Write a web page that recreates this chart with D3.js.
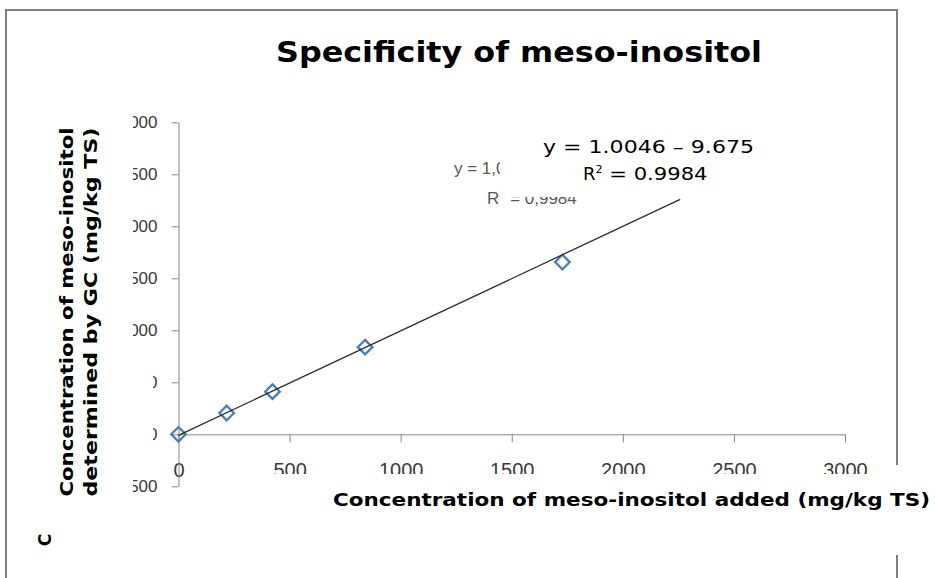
<!DOCTYPE html>
<html>
<head>
<meta charset="utf-8">
<script src="https://cdn.jsdelivr.net/npm/d3@7"></script>
<style>
  html, body { margin: 0; padding: 0; background: #fff; }
  svg { display: block; }
</style>
</head>
<body>
<svg id="chart" width="935" height="578"></svg>
<script>
// ---- data ----
const addedX     = [0, 217, 423, 840, 1728];      // mg/kg TS added
const measuredY  = [0, 205, 410, 838, 1656];      // mg/kg TS determined by GC
const xTickVals  = [0, 500, 1000, 1500, 2000, 2500, 3000];
const yTickVals  = [-500, 0, 500, 1000, 1500, 2000, 2500, 3000];
const trendX     = [0, 2258];
const trendY     = [-9.7, 2258.7];
const titleText  = "Specificity of meso-inositol";
const xTitle     = "Concentration of meso-inositol added (mg/kg TS)";
const yTitle1    = "Concentration of meso-inositol";
const yTitle2    = "determined by GC (mg/kg TS)";
const eqNew1     = "y = 1.0046 \u2013 9.675";
const eqNewR     = " = 0.9984";
const eqOld1     = "y = 1,0046x - 9,675";
const eqOldR     = " = 0,9984";

const svg = d3.select("#chart");
const x = d3.scaleLinear().domain([0, 3000]).range([178.5, 845]);
const y = d3.scaleLinear().domain([-500, 3000]).range([486.3, 122.3]);

const axisColor = "#868686";
const tickFont = "'Liberation Sans Narrow', 'Arial Narrow', 'Liberation Sans', sans-serif";

// x axis
const gx = svg.append("g")
  .attr("transform", `translate(0,${y(0)})`)
  .call(d3.axisBottom(x).tickValues(xTickVals).tickSize(8).tickSizeOuter(0).tickPadding(21).tickFormat(d3.format("d")));
gx.attr("font-family", tickFont).attr("font-size", 20);
gx.selectAll("path, line").attr("stroke", axisColor);
gx.selectAll("text").attr("fill", "#3a3a3a");

// y axis
const gy = svg.append("g")
  .attr("transform", `translate(${x(0)},0)`)
  .call(d3.axisLeft(y).tickValues(yTickVals).tickSize(7).tickSizeOuter(0).tickPadding(14).tickFormat(d3.format("d")));
gy.attr("font-family", tickFont).attr("font-size", 17);
gy.selectAll("path, line").attr("stroke", axisColor);
gy.selectAll("text").attr("fill", "#3a3a3a");

// data points (diamonds)
const pts = addedX.map((v, i) => ({ x: v, y: measuredY[i] }));
svg.append("g").selectAll("path")
  .data(pts).enter().append("path")
  .attr("d", d3.symbol().type(d3.symbolDiamond2).size(135))
  .attr("transform", d => `translate(${x(d.x)},${y(d.y)})`)
  .attr("fill", "none")
  .attr("stroke", "#4a7ebb")
  .attr("stroke-width", 2.3);

// trendline
const trend = trendX.map((v, i) => ({ x: v, y: trendY[i] }));
svg.append("path")
  .datum(trend)
  .attr("d", d3.line().x(d => x(d.x)).y(d => y(d.y)))
  .attr("stroke", "#2b2b2b")
  .attr("stroke-width", 1.3)
  .attr("fill", "none");

// original (Excel) equation label
const old = svg.append("g").attr("font-family", "'Liberation Sans', Arial, sans-serif")
  .attr("font-size", 17).attr("fill", "#595959");
old.append("text").attr("x", 454).attr("y", 174).text(eqOld1);
const oldR = old.append("text").attr("x", 487).attr("y", 204);
oldR.append("tspan").text("R");
oldR.append("tspan").attr("font-size", 11).attr("dy", -7).text("2");
oldR.append("tspan").attr("dy", 7).text(eqOldR);

// original rotated y-title remnant
svg.append("text")
  .attr("transform", "translate(51,540) rotate(-90)")
  .attr("text-anchor", "middle")
  .attr("font-family", "'DejaVu Sans', Verdana, sans-serif")
  .attr("font-weight", "bold")
  .attr("font-size", 17)
  .text("C");

// ---- white overlay boxes ----
const white = svg.append("g").attr("fill", "#fff");
white.append("rect").attr("x", 7).attr("y", 95).attr("width", 126).attr("height", 430);
white.append("rect").attr("x", 7).attr("y", 365).attr("width", 146).attr("height", 85);
white.append("rect").attr("x", 190).attr("y", 474).attr("width", 745).attr("height", 56);
white.append("rect").attr("x", 500).attr("y", 122).attr("width", 362).attr("height", 75);

// ---- overlaid texts ----
const verdana = "'DejaVu Sans', Verdana, sans-serif";
svg.append("text")
  .attr("x", 276).attr("y", 62)
  .attr("font-family", verdana).attr("font-weight", "bold").attr("font-size", 29)
  .attr("textLength", 486).attr("lengthAdjust", "spacingAndGlyphs")
  .text(titleText);

svg.append("text")
  .attr("x", 333).attr("y", 506)
  .attr("font-family", verdana).attr("font-weight", "bold").attr("font-size", 18)
  .attr("textLength", 597).attr("lengthAdjust", "spacingAndGlyphs")
  .text(xTitle);

[[yTitle1, 73], [yTitle2, 97]].forEach(([t, bx]) => {
  svg.append("text")
    .attr("transform", `translate(${bx},312) rotate(-90)`)
    .attr("text-anchor", "middle")
    .attr("font-family", verdana).attr("font-weight", "bold").attr("font-size", 18)
    .attr("textLength", 369).attr("lengthAdjust", "spacingAndGlyphs")
    .text(t);
});

svg.append("text")
  .attr("x", 543).attr("y", 153)
  .attr("font-family", verdana).attr("font-size", 18)
  .attr("textLength", 211).attr("lengthAdjust", "spacingAndGlyphs")
  .text(eqNew1);
const nr = svg.append("text").attr("x", 583).attr("y", 180)
  .attr("font-family", verdana).attr("font-size", 18);
nr.append("tspan").text("R");
nr.append("tspan").attr("font-size", 11).attr("dy", -7).text("2");
nr.append("tspan").attr("dy", 7).attr("textLength", 105).attr("lengthAdjust", "spacingAndGlyphs").text(eqNewR);

// ---- outer frame ----
const frame = svg.append("g").attr("stroke", "#7f7f7f").attr("stroke-width", 2);
frame.append("line").attr("x1", 5).attr("y1", 10).attr("x2", 898).attr("y2", 10);
frame.append("line").attr("x1", 6).attr("y1", 9).attr("x2", 6).attr("y2", 578);
frame.append("line").attr("x1", 897).attr("y1", 9).attr("x2", 897).attr("y2", 465);
frame.append("line").attr("x1", 897).attr("y1", 555).attr("x2", 897).attr("y2", 578);
</script>
</body>
</html>
